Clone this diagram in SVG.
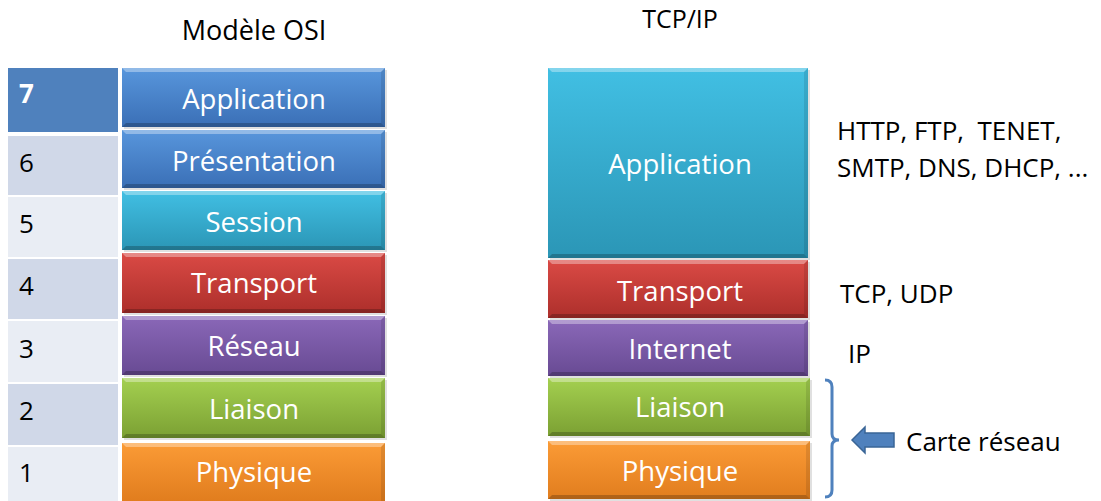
<svg xmlns="http://www.w3.org/2000/svg" width="1101" height="501" viewBox="0 0 1101 501">
<defs>
<linearGradient id="gBlue" x1="0" y1="0" x2="0" y2="1"><stop offset="0" stop-color="#5896dc"/><stop offset="1" stop-color="#3a6fb6"/></linearGradient>
<linearGradient id="gCyan" x1="0" y1="0" x2="0" y2="1"><stop offset="0" stop-color="#41bfe3"/><stop offset="1" stop-color="#2b96b6"/></linearGradient>
<linearGradient id="gRed" x1="0" y1="0" x2="0" y2="1"><stop offset="0" stop-color="#da4a45"/><stop offset="1" stop-color="#ad2f2b"/></linearGradient>
<linearGradient id="gPurple" x1="0" y1="0" x2="0" y2="1"><stop offset="0" stop-color="#8a68b8"/><stop offset="1" stop-color="#684a93"/></linearGradient>
<linearGradient id="gGreen" x1="0" y1="0" x2="0" y2="1"><stop offset="0" stop-color="#a4d050"/><stop offset="1" stop-color="#7ba033"/></linearGradient>
<linearGradient id="gOrange" x1="0" y1="0" x2="0" y2="1"><stop offset="0" stop-color="#fb9b36"/><stop offset="1" stop-color="#e17d1e"/></linearGradient>
</defs>
<style>
.lbl{font-family:"Open Sans","Liberation Sans",sans-serif;font-size:27.5px;fill:#ffffff;text-anchor:middle}
.txt{font-family:"Open Sans","Liberation Sans",sans-serif;font-size:26px;fill:#000000;white-space:pre}
.num{font-family:"Open Sans","Liberation Sans",sans-serif;font-size:26px;fill:#000000}
.hi{fill:#ffffff;opacity:0.35}
.lo{fill:#000000;opacity:0.22}
.sd{fill:#000000;opacity:0.1}
.shadow{fill:#000000;opacity:0.12}
</style>
<rect width="1101" height="501" fill="#ffffff"/>

<text class="txt" x="254" y="40" text-anchor="middle" style="font-size:27px">Modèle OSI</text>
<text class="txt" x="680" y="28" text-anchor="middle" style="font-size:25px">TCP/IP</text>

<g id="osi-numbers">
<rect x="8" y="68" width="110" height="64" fill="#4f81bd"/>
<rect x="8" y="136" width="110" height="59" fill="#d0d8e8"/>
<rect x="8" y="197" width="110" height="60" fill="#e9edf4"/>
<rect x="8" y="259" width="110" height="60" fill="#d0d8e8"/>
<rect x="8" y="321" width="110" height="61" fill="#e9edf4"/>
<rect x="8" y="384" width="110" height="61" fill="#d0d8e8"/>
<rect x="8" y="447" width="110" height="54" fill="#e9edf4"/>
<text class="num" x="19" y="103" style="fill:#ffffff;font-weight:bold">7</text>
<text class="num" x="19" y="172">6</text>
<text class="num" x="19" y="233">5</text>
<text class="num" x="19" y="295">4</text>
<text class="num" x="19" y="358">3</text>
<text class="num" x="19" y="420">2</text>
<text class="num" x="19" y="482">1</text>
</g>

<g id="osi-application">
<rect x="124" y="70" width="263" height="59" class="shadow"/>
<rect x="122" y="68" width="263" height="59" fill="url(#gBlue)"/>
<polygon class="hi" points="122,68 385,68 381,72 126,72"/>
<polygon class="lo" points="122,127 385,127 381,123 126,123"/>
<polygon class="sd" points="381,72 385,68 385,127 381,123"/>
<text class="lbl" x="254" y="109">Application</text>
</g>
<g id="osi-presentation">
<rect x="124" y="132" width="263" height="58" class="shadow"/>
<rect x="122" y="130" width="263" height="58" fill="url(#gBlue)"/>
<polygon class="hi" points="122,130 385,130 381,134 126,134"/>
<polygon class="lo" points="122,188 385,188 381,184 126,184"/>
<polygon class="sd" points="381,134 385,130 385,188 381,184"/>
<text class="lbl" x="254" y="171">Présentation</text>
</g>
<g id="osi-session">
<rect x="124" y="193" width="263" height="59" class="shadow"/>
<rect x="122" y="191" width="263" height="59" fill="url(#gCyan)"/>
<polygon class="hi" points="122,191 385,191 381,195 126,195"/>
<polygon class="lo" points="122,250 385,250 381,246 126,246"/>
<polygon class="sd" points="381,195 385,191 385,250 381,246"/>
<text class="lbl" x="254" y="232">Session</text>
</g>
<g id="osi-transport">
<rect x="124" y="255" width="263" height="60" class="shadow"/>
<rect x="122" y="253" width="263" height="60" fill="url(#gRed)"/>
<polygon class="hi" points="122,253 385,253 381,257 126,257"/>
<polygon class="lo" points="122,313 385,313 381,309 126,309"/>
<polygon class="sd" points="381,257 385,253 385,313 381,309"/>
<text class="lbl" x="254" y="293">Transport</text>
</g>
<g id="osi-reseau">
<rect x="124" y="318" width="263" height="59" class="shadow"/>
<rect x="122" y="316" width="263" height="59" fill="url(#gPurple)"/>
<polygon class="hi" points="122,316 385,316 381,320 126,320"/>
<polygon class="lo" points="122,375 385,375 381,371 126,371"/>
<polygon class="sd" points="381,320 385,316 385,375 381,371"/>
<text class="lbl" x="254" y="356">Réseau</text>
</g>
<g id="osi-liaison">
<rect x="124" y="380" width="263" height="60" class="shadow"/>
<rect x="122" y="378" width="263" height="60" fill="url(#gGreen)"/>
<polygon class="hi" points="122,378 385,378 381,382 126,382"/>
<polygon class="lo" points="122,438 385,438 381,434 126,434"/>
<polygon class="sd" points="381,382 385,378 385,438 381,434"/>
<text class="lbl" x="254" y="419">Liaison</text>
</g>
<g id="osi-physique">
<rect x="122" y="443" width="263" height="58" fill="url(#gOrange)"/>
<polygon class="hi" points="122,443 385,443 381,447 126,447"/>
<polygon class="sd" points="381,447 385,443 385,501 381,501"/>
<text class="lbl" x="254" y="482">Physique</text>
</g>

<g id="tcp-application">
<rect x="550" y="70" width="260" height="190" class="shadow"/>
<rect x="548" y="68" width="260" height="190" fill="url(#gCyan)"/>
<polygon class="hi" points="548,68 808,68 804,72 552,72"/>
<polygon class="lo" points="548,258 808,258 804,254 552,254"/>
<polygon class="sd" points="804,72 808,68 808,258 804,254"/>
<text class="lbl" x="680" y="174">Application</text>
</g>
<g id="tcp-transport">
<rect x="550" y="262" width="260" height="58" class="shadow"/>
<rect x="548" y="260" width="260" height="58" fill="url(#gRed)"/>
<polygon class="hi" points="548,260 808,260 804,264 552,264"/>
<polygon class="lo" points="548,318 808,318 804,314 552,314"/>
<polygon class="sd" points="804,264 808,260 808,318 804,314"/>
<text class="lbl" x="680" y="301">Transport</text>
</g>
<g id="tcp-internet">
<rect x="550" y="322" width="260" height="56" class="shadow"/>
<rect x="548" y="320" width="260" height="56" fill="url(#gPurple)"/>
<polygon class="hi" points="548,320 808,320 804,324 552,324"/>
<polygon class="lo" points="548,376 808,376 804,372 552,372"/>
<polygon class="sd" points="804,324 808,320 808,376 804,372"/>
<text class="lbl" x="680" y="359">Internet</text>
</g>
<g id="tcp-liaison">
<rect x="550" y="380" width="262" height="58" class="shadow"/>
<rect x="548" y="378" width="262" height="58" fill="url(#gGreen)"/>
<polygon class="hi" points="548,378 810,378 806,382 552,382"/>
<polygon class="lo" points="548,436 810,436 806,432 552,432"/>
<polygon class="sd" points="806,382 810,378 810,436 806,432"/>
<text class="lbl" x="680" y="417">Liaison</text>
</g>
<g id="tcp-physique">
<rect x="550" y="443" width="262" height="58" class="shadow"/>
<rect x="548" y="441" width="262" height="58" fill="url(#gOrange)"/>
<polygon class="hi" points="548,441 810,441 806,445 552,445"/>
<polygon class="lo" points="548,499 810,499 806,495 552,495"/>
<polygon class="sd" points="806,445 810,441 810,499 806,495"/>
<text class="lbl" x="680" y="481">Physique</text>
</g>

<g id="protocols">
<text class="txt" x="837" y="140" xml:space="preserve">HTTP, FTP,  TENET,</text>
<text class="txt" x="837" y="177">SMTP, DNS, DHCP, ...</text>
<text class="txt" x="840" y="303">TCP, UDP</text>
<text class="txt" x="848" y="363">IP</text>
</g>

<g id="connectors">
<path d="M825,380 Q832,380 832,387 L832,434 Q832,440 839,440 Q832,440 832,446 L832,490 Q832,497 825,497" fill="none" stroke="#4f81bd" stroke-width="3"/>
<polygon points="852,440 865,427 865,433 894,433 894,447 865,447 865,453" fill="#4f81bd" stroke="#3a6596" stroke-width="1.5"/>
</g>
<g id="carte-reseau">
<text class="txt" x="906" y="451">Carte réseau</text>
</g>
</svg>
